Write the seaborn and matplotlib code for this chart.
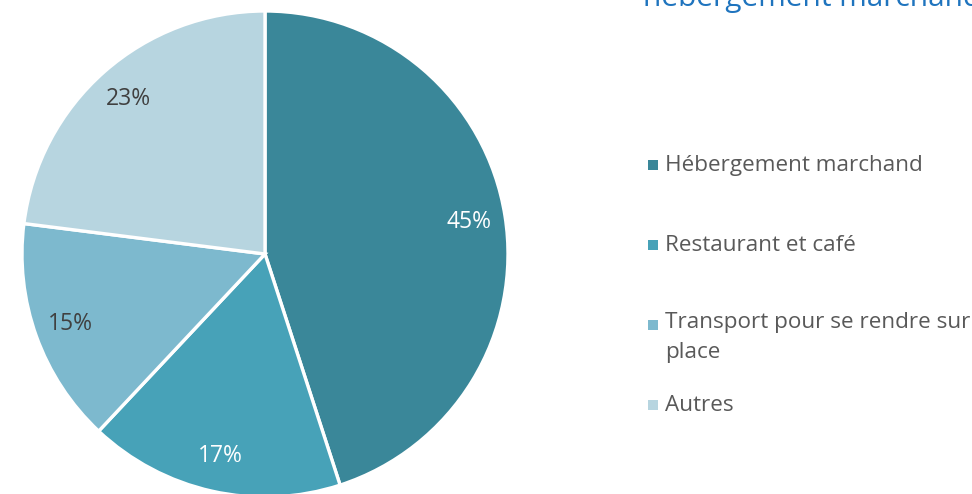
import matplotlib
matplotlib.use("Agg")
import matplotlib.pyplot as plt
from matplotlib.patches import Rectangle
import seaborn as sns

# Data
categories = ["Hébergement marchand", "Restaurant et café",
              "Transport pour se rendre sur\nplace", "Autres"]
shares = [45, 17, 15, 23]
slice_colors = ["#3A8799", "#47A2B8", "#7DB9CE", "#B7D5E0"]
label_colors = ["white", "white", "#404040", "#404040"]
title_text = "hébergement marchand"

sns.set_style("white")
plt.rcParams["font.family"] = ["Open Sans", "DejaVu Sans"]

W, H = 972, 494
fig = plt.figure(figsize=(W / 100, H / 100), dpi=100)

# pie centred at (265, 254) px, radius 243 px
cx, cy, r = 265, 254, 243
ax = fig.add_axes([(cx - r) / W, (H - cy - r) / H, 2 * r / W, 2 * r / H])
wedges, _, autotexts = ax.pie(
    shares,
    colors=slice_colors,
    startangle=90,
    counterclock=False,
    autopct="%d%%",
    pctdistance=0.85,
    radius=1.0,
    wedgeprops=dict(edgecolor="white", linewidth=2.4),
    textprops=dict(fontsize=16.5),
)
for t, c in zip(autotexts, label_colors):
    t.set_color(c)
ax.set_xlim(-1, 1)
ax.set_ylim(-1, 1)
ax.set_aspect("equal")
ax.axis("off")

# title, cut off at the top edge as in the original
fig.text(643 / W, 1 - 6 / H, title_text, color="#1F74BE", fontsize=21.5,
         ha="left", va="baseline")

# legend (Excel-like: markers aligned with first line)
leg_y = [165, 245, 325, 405]
for lab, col, y in zip(categories, slice_colors, leg_y):
    fig.patches.append(Rectangle((648 / W, 1 - (y + 5) / H), 10 / W, 10 / H,
                                 transform=fig.transFigure, facecolor=col,
                                 edgecolor="none"))
    if "\n" in lab:
        fig.text(665 / W, 1 - (y - 13) / H, lab, color="#595959",
                 fontsize=16.2, ha="left", va="top", linespacing=1.55)
    else:
        fig.text(665 / W, 1 - y / H, lab, color="#595959", fontsize=16.2,
                 ha="left", va="center")

fig.savefig("out.png", dpi=100)
